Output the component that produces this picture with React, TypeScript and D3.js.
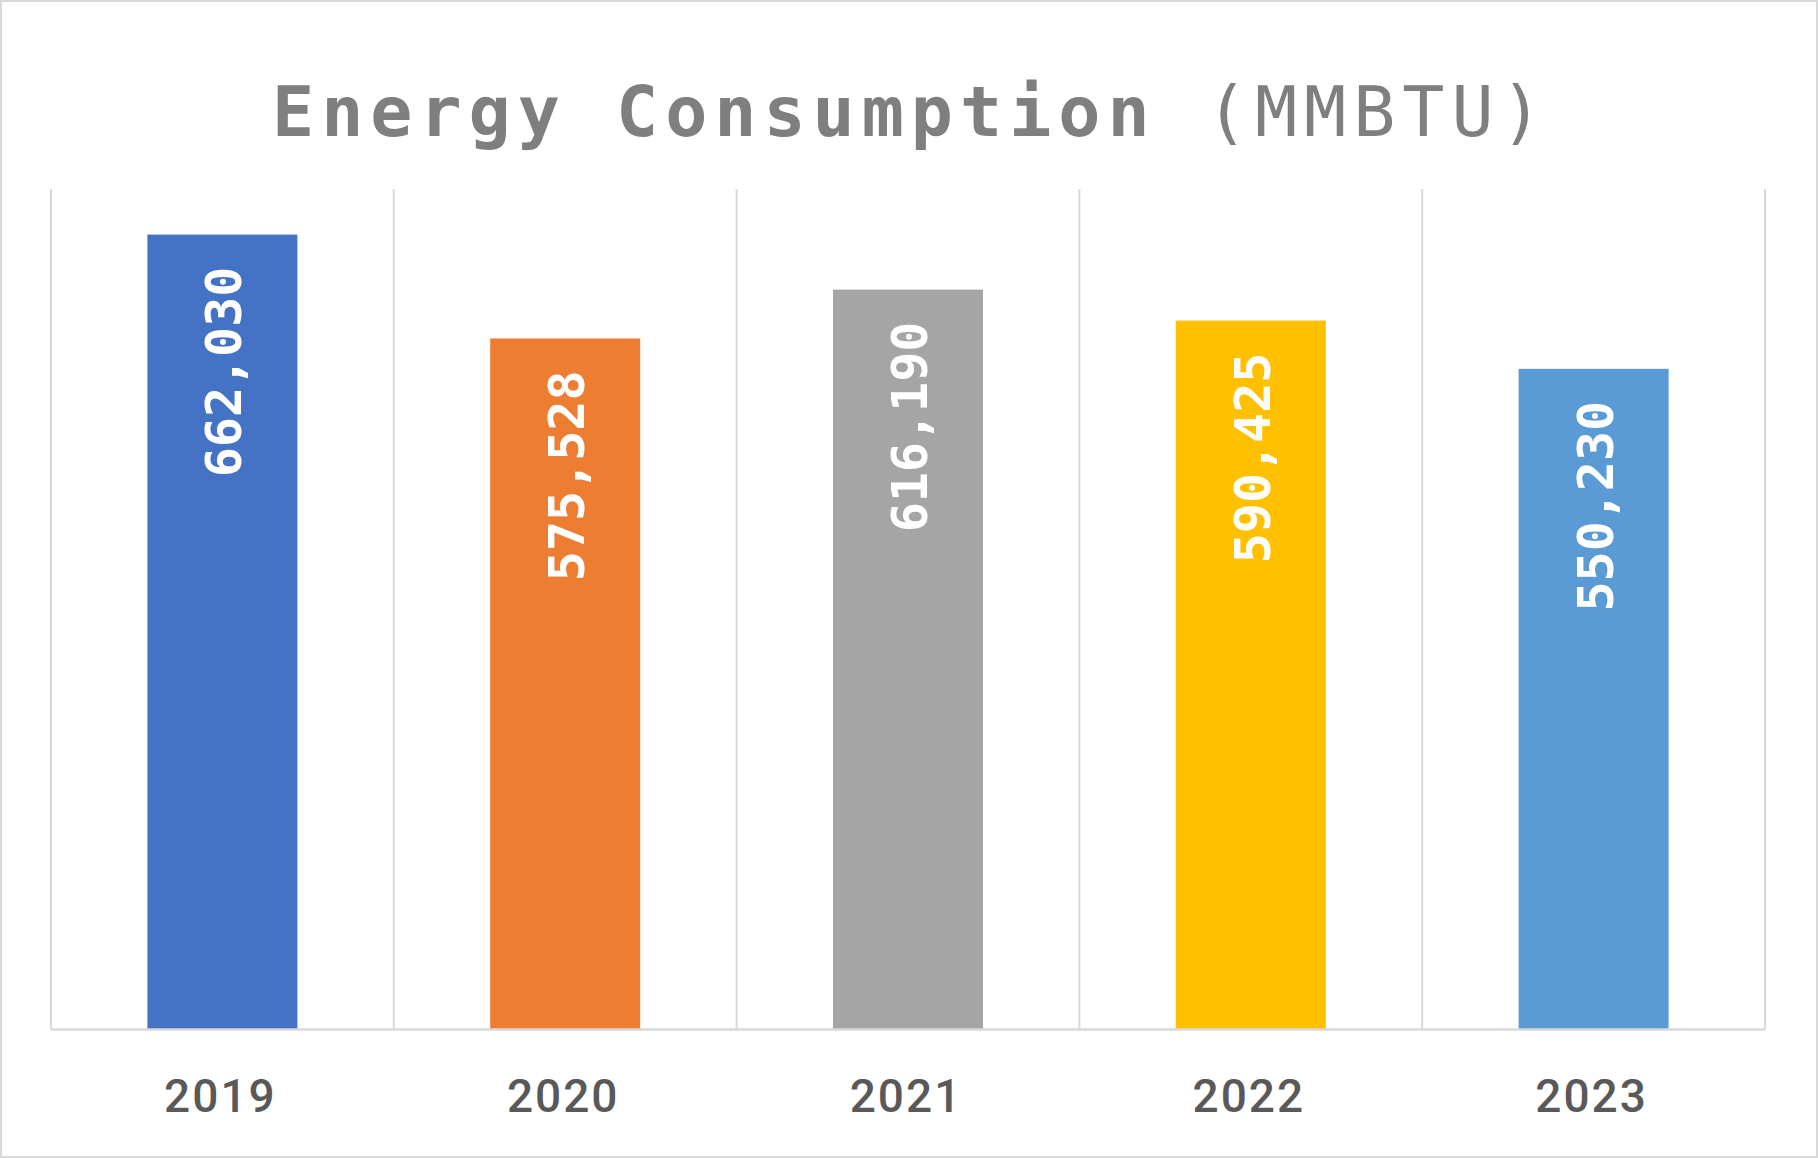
import React, { useEffect, useRef } from 'react'
import * as d3 from 'd3'

const years = ['2019', '2020', '2021', '2022', '2023']
const consumption = [662030, 575528, 616190, 590425, 550230]
const barColors = ['#4472C4', '#ED7D31', '#A5A5A5', '#FFC000', '#5B9BD5']
const yMax = 700000

export default function App() {
  const svgRef = useRef(null)
  const width = 1818
  const height = 1158
  const margin = { top: 189, right: 53, bottom: 128.5, left: 51 }
  const innerW = width - margin.left - margin.right
  const innerH = height - margin.top - margin.bottom

  useEffect(() => {
    document.body.style.margin = '0'
    const svgEl = d3.select(svgRef.current)
    svgEl.selectAll('*').remove()

    // outer frame
    svgEl
      .append('rect')
      .attr('x', 1)
      .attr('y', 1)
      .attr('width', width - 2)
      .attr('height', height - 2)
      .attr('fill', '#fff')
      .attr('stroke', '#d9d9d9')
      .attr('stroke-width', 2)

    // title
    const title = svgEl
      .append('text')
      .attr('x', 272)
      .attr('y', 136)
      .style('font-family', '"DejaVu Sans Mono", monospace')
      .style('font-size', '70px')
      .style('letter-spacing', '7px')
      .attr('fill', '#7f7f7f')
    title.append('tspan').style('font-weight', 'bold').text('Energy Consumption ')
    title.append('tspan').style('font-weight', 'normal').text('(MMBTU)')

    const svg = svgEl.append('g').attr('transform', `translate(${margin.left}, ${margin.top})`)

    const xCat = d3.scaleBand().domain(years).range([0, innerW])
    const y = d3.scaleLinear().domain([0, yMax]).range([innerH, 0])
    const barW = 150

    // category separators
    const bounds = years.map((d) => xCat(d)).concat([innerW])
    svg
      .selectAll('line.sep')
      .data(bounds)
      .enter()
      .append('line')
      .attr('class', 'sep')
      .attr('x1', (d) => d)
      .attr('x2', (d) => d)
      .attr('y1', 0)
      .attr('y2', innerH)
      .attr('stroke', '#d9d9d9')
      .attr('stroke-width', 2)

    // bars
    svg
      .selectAll('rect.bar')
      .data(consumption)
      .enter()
      .append('rect')
      .attr('class', 'bar')
      .attr('x', (d, i) => xCat(years[i]) + xCat.bandwidth() / 2 - barW / 2)
      .attr('width', barW)
      .attr('y', (d) => y(d))
      .attr('height', (d) => innerH - y(d))
      .attr('fill', (d, i) => barColors[i])

    // x axis line
    svg
      .append('line')
      .attr('x1', 0)
      .attr('x2', innerW)
      .attr('y1', innerH)
      .attr('y2', innerH)
      .attr('stroke', '#d9d9d9')
      .attr('stroke-width', 2.5)

    // value labels
    const fmt = d3.format(',')
    svg
      .selectAll('text.val')
      .data(consumption)
      .enter()
      .append('text')
      .attr('class', 'val')
      .attr('transform', (d, i) => `translate(${xCat(years[i]) + xCat.bandwidth() / 2 + 2}, ${y(d) + 32}) rotate(-90)`)
      .attr('text-anchor', 'end')
      .attr('dominant-baseline', 'central')
      .attr('fill', '#fff')
      .style('font-family', '"DejaVu Sans Mono", monospace')
      .style('font-weight', 'bold')
      .style('font-size', '50px')
      .text((d) => fmt(d))

    // year labels
    svg
      .selectAll('text.year')
      .data(years)
      .enter()
      .append('text')
      .attr('class', 'year')
      .attr('x', (d) => xCat(d) + xCat.bandwidth() / 2 - 2)
      .attr('y', innerH + 82)
      .attr('text-anchor', 'middle')
      .attr('fill', '#595959')
      .style('font-family', 'Roboto, sans-serif')
      .style('font-weight', 500)
      .style('font-size', '46px')
      .style('letter-spacing', '2px')
      .text((d) => d)
  }, [])

  return <svg ref={svgRef} width={width} height={height} style={{ display: 'block' }} />
}
